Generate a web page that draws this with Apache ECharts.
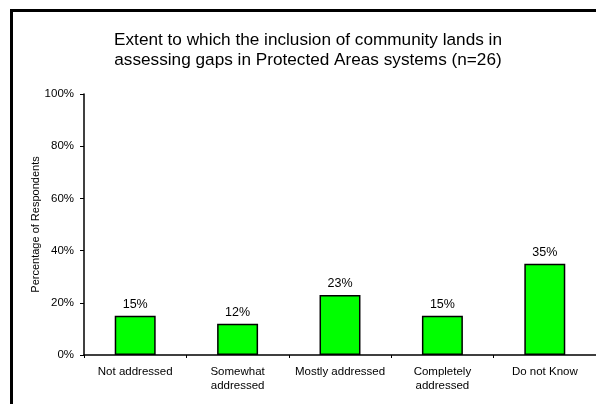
<!DOCTYPE html>
<html>
<head>
<meta charset="utf-8">
<script src="https://cdn.jsdelivr.net/npm/echarts@6/dist/echarts.min.js"></script>
<style>
  html, body { margin: 0; padding: 0; background: #fff; }
  #chart { width: 596px; height: 404px; }
</style>
</head>
<body>
<div id="chart"></div>
<script>
// Survey responses: how community lands are included in gap assessments
const categories = ['Not addressed', 'Somewhat\naddressed', 'Mostly addressed', 'Completely\naddressed', 'Do not Know'];
const percentages = [15, 12, 23, 15, 35];
const yTicks = [0, 20, 40, 60, 80, 100];

const FONT = '"Liberation Sans", Arial, sans-serif';

const chart = echarts.init(document.getElementById('chart'), null, { renderer: 'canvas' });

chart.setOption({
  animation: false,
  backgroundColor: '#ffffff',
  title: {
    text: 'Extent to which the inclusion of community lands in\nassessing gaps in Protected Areas systems (n=26)',
    left: 308,
    top: 30,
    padding: 0,
    textAlign: 'center',
    textStyle: {
      fontFamily: FONT,
      fontSize: 17.2,
      fontWeight: 'normal',
      color: '#000',
      lineHeight: 20
    }
  },
  graphic: [{
    type: 'rect',
    shape: { x: 11.5, y: 10.5, width: 700, height: 500 },
    style: { fill: 'none', stroke: '#000', lineWidth: 3 },
    silent: true
  }],
  grid: { left: 84, right: 0, top: 94, bottom: 49, containLabel: false },
  xAxis: {
    type: 'category',
    data: categories,
    boundaryGap: true,
    axisLine: { lineStyle: { color: '#000', width: 1.5 } },
    axisTick: { show: true, length: 3, lineStyle: { color: '#000' } },
    axisLabel: {
      fontFamily: FONT,
      fontSize: 11.5,
      color: '#000',
      margin: 10,
      lineHeight: 14,
      interval: 0
    }
  },
  yAxis: {
    type: 'value',
    min: yTicks[0],
    max: yTicks[yTicks.length - 1],
    interval: 20,
    name: 'Percentage of Respondents',
    nameLocation: 'middle',
    nameGap: 43,
    nameMoveOverlap: false,
    nameTextStyle: { fontFamily: FONT, fontSize: 11, color: '#000' },
    axisLine: { show: true, lineStyle: { color: '#000', width: 1.5 } },
    axisTick: { show: true, length: 4, lineStyle: { color: '#000' } },
    splitLine: { show: false },
    axisLabel: {
      fontFamily: FONT,
      fontSize: 11.5,
      color: '#000',
      margin: 10,
      formatter: '{value}%'
    }
  },
  series: [{
    type: 'bar',
    data: percentages,
    barWidth: '40%',
    itemStyle: { color: '#00ff00', borderColor: '#000', borderWidth: 1.5 },
    label: {
      show: true,
      position: 'top',
      distance: 5,
      fontFamily: FONT,
      fontSize: 12.5,
      color: '#000',
      formatter: '{c}%'
    }
  }]
});
</script>
</body>
</html>
